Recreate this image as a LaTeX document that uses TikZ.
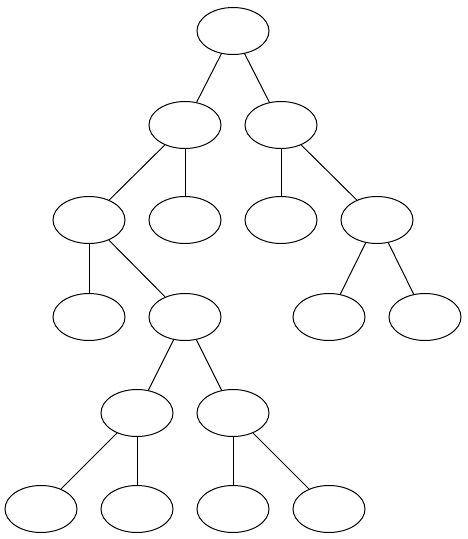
\documentclass[tikz,border=0pt]{standalone}
\usetikzlibrary{shapes.geometric}
\begin{document}
\begin{tikzpicture}[x=1pt,y=-1pt,
  leaf/.style={draw,ellipse,line width=1pt,minimum width=72pt,minimum height=47pt,inner sep=0pt},
  edge/.style={line width=1pt}]
\useasboundingbox (0,0) rectangle (467,539);
\node[leaf] (r) at (233,31) {};
\node[leaf] (a) at (185,125) {};
\node[leaf] (b) at (281,125) {};
\node[leaf] (aa) at (89,220) {};
\node[leaf] (ab) at (185,220) {};
\node[leaf] (ba) at (281,220) {};
\node[leaf] (bb) at (377,220) {};
\node[leaf] (aaa) at (89,317) {};
\node[leaf] (aab) at (185,317) {};
\node[leaf] (bba) at (329,317) {};
\node[leaf] (bbb) at (425,317) {};
\node[leaf] (aaba) at (137,413) {};
\node[leaf] (aabb) at (233,413) {};
\node[leaf] (x1) at (41,509) {};
\node[leaf] (x2) at (137,509) {};
\node[leaf] (x3) at (233,509) {};
\node[leaf] (x4) at (329,509) {};
\draw[edge] (r) -- (a);
\draw[edge] (r) -- (b);
\draw[edge] (a) -- (aa);
\draw[edge] (a) -- (ab);
\draw[edge] (b) -- (ba);
\draw[edge] (b) -- (bb);
\draw[edge] (aa) -- (aaa);
\draw[edge] (aa) -- (aab);
\draw[edge] (bb) -- (bba);
\draw[edge] (bb) -- (bbb);
\draw[edge] (aab) -- (aaba);
\draw[edge] (aab) -- (aabb);
\draw[edge] (aaba) -- (x1);
\draw[edge] (aaba) -- (x2);
\draw[edge] (aabb) -- (x3);
\draw[edge] (aabb) -- (x4);
\end{tikzpicture}
\end{document}
